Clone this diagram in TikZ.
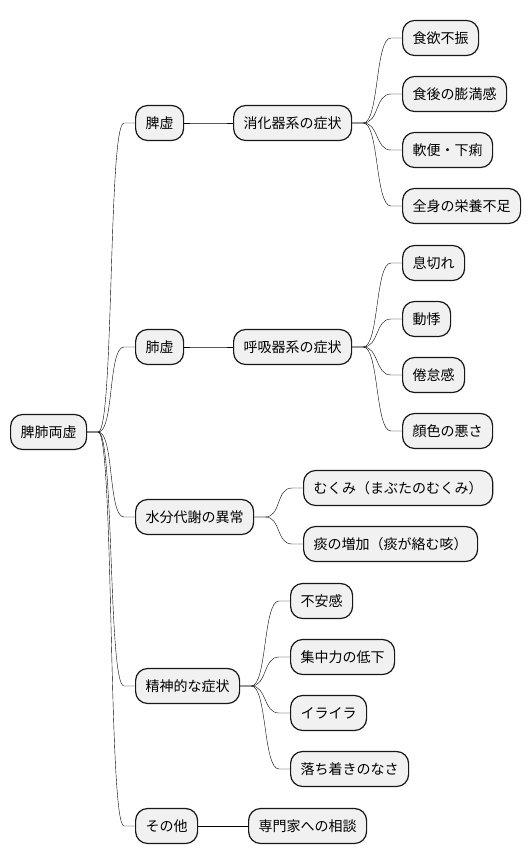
\documentclass[tikz,border=0pt]{standalone}
\usepackage{fontspec}
\setmainfont{Noto Sans CJK JP}
\usepackage{tikz}
\usetikzlibrary{calc}
\definecolor{boxgray}{HTML}{F1F1F1}
\definecolor{inkblack}{HTML}{181818}

\begin{document}
\begin{tikzpicture}[x=1pt, y=-1pt,
  topic/.style={rectangle, draw=inkblack, fill=boxgray, rounded corners=12pt, line width=1.2pt, minimum height=35pt, inner xsep=10pt, inner ysep=0pt, anchor=west, font=\fontsize{14}{16}\selectfont},
  branch/.style={line width=1pt, draw=inkblack, to path={-- ++(11,0) .. controls +(16,0) and +(-16,0) .. ($(\tikztotarget)+(-11,0)$) -- (\tikztotarget)}}
]
  \useasboundingbox (0,0) rectangle (530,865);

  \node[topic] (root) at (10,432) {脾肺両虚};

  % spleen branch
  \node[topic] (spleen) at (135,123) {脾虚};
  \node[topic] (digest) at (233,123) {消化器系の症状};
  \node[topic] (appetite) at (402,38) {食欲不振};
  \node[topic] (bloating) at (402,94) {食後の膨満感};
  \node[topic] (stool) at (402,150) {軟便・下痢};
  \node[topic] (nutrition) at (402,206) {全身の栄養不足};

  % lung branch
  \node[topic] (lung) at (135,347) {肺虚};
  \node[topic] (breath) at (233,347) {呼吸器系の症状};
  \node[topic] (shortness) at (402,263) {息切れ};
  \node[topic] (palpit) at (402,319) {動悸};
  \node[topic] (fatigue) at (402,375) {倦怠感};
  \node[topic] (complexion) at (402,431) {顔色の悪さ};

  % water branch
  \node[topic] (water) at (135,517) {水分代謝の異常};
  \node[topic] (swelling) at (303,488) {むくみ（まぶたのむくみ）};
  \node[topic] (phlegm) at (303,544) {痰の増加（痰が絡む咳）};

  % mind branch
  \node[topic] (mind) at (135,686) {精神的な症状};
  \node[topic] (anxiety) at (290,601) {不安感};
  \node[topic] (focus) at (290,657) {集中力の低下};
  \node[topic] (irritation) at (290,713) {イライラ};
  \node[topic] (restless) at (290,769) {落ち着きのなさ};

  % other
  \node[topic] (other) at (135,826) {その他};
  \node[topic] (consult) at (248,826) {専門家への相談};

  \draw (root.east) to[branch] (spleen.west);
  \draw (root.east) to[branch] (lung.west);
  \draw (root.east) to[branch] (water.west);
  \draw (root.east) to[branch] (mind.west);
  \draw (root.east) to[branch] (other.west);

  \draw (spleen.east) to[branch] (digest.west);
  \draw (digest.east) to[branch] (appetite.west);
  \draw (digest.east) to[branch] (bloating.west);
  \draw (digest.east) to[branch] (stool.west);
  \draw (digest.east) to[branch] (nutrition.west);

  \draw (lung.east) to[branch] (breath.west);
  \draw (breath.east) to[branch] (shortness.west);
  \draw (breath.east) to[branch] (palpit.west);
  \draw (breath.east) to[branch] (fatigue.west);
  \draw (breath.east) to[branch] (complexion.west);

  \draw (water.east) to[branch] (swelling.west);
  \draw (water.east) to[branch] (phlegm.west);

  \draw (mind.east) to[branch] (anxiety.west);
  \draw (mind.east) to[branch] (focus.west);
  \draw (mind.east) to[branch] (irritation.west);
  \draw (mind.east) to[branch] (restless.west);

  \draw (other.east) to[branch] (consult.west);
\end{tikzpicture}
\end{document}
